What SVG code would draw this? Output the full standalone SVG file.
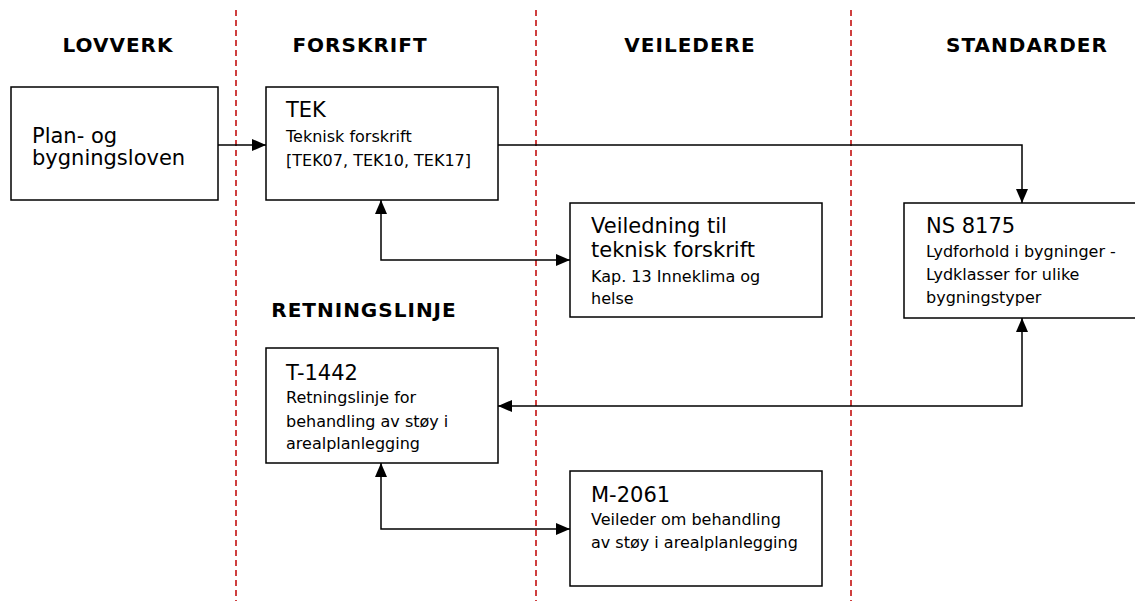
<svg xmlns="http://www.w3.org/2000/svg" width="1135" height="601" viewBox="0 0 1135 601">
<style>
.bg{fill:#fff}
.sep{stroke:#c00000;stroke-width:1.5;stroke-dasharray:6,4;fill:none}
.box{fill:#fff;stroke:#000;stroke-width:1.5}
.hdr{font-family:"DejaVu Sans",Verdana,sans-serif;font-weight:bold;font-size:20px;letter-spacing:1px;fill:#000;text-anchor:middle}
.t1{font-family:"DejaVu Sans",Verdana,sans-serif;font-size:21px;fill:#000}
.t2{font-family:"DejaVu Sans",Verdana,sans-serif;font-size:16px;fill:#000}
.con{stroke:#000;stroke-width:1.5;fill:none}
</style>
<defs>
<marker id="ah" viewBox="0 0 14 12" refX="14" refY="6" markerWidth="14" markerHeight="12" markerUnits="userSpaceOnUse" orient="auto-start-reverse">
<path d="M0,0 L14,6 L0,12 Z" fill="#000"/>
</marker>
<clipPath id="clipT"><rect x="266" y="348" width="232" height="105"/></clipPath>
</defs>
<rect class="bg" x="0" y="0" width="1135" height="601"/>
<g id="separators">
<line class="sep" x1="236" y1="10" x2="236" y2="601"/>
<line class="sep" x1="536" y1="10" x2="536" y2="601"/>
<line class="sep" x1="851" y1="10" x2="851" y2="601"/>
</g>
<g id="headers">
<text class="hdr" x="118" y="52">LOVVERK</text>
<text class="hdr" x="360" y="52">FORSKRIFT</text>
<text class="hdr" x="690" y="52">VEILEDERE</text>
<text class="hdr" x="1027" y="52">STANDARDER</text>
<text class="hdr" x="364" y="317">RETNINGSLINJE</text>
</g>
<g id="connectors">
<path class="con" d="M218,145 L266,145" marker-end="url(#ah)"/>
<path class="con" d="M498,145 L1022,145 L1022,203" marker-end="url(#ah)"/>
<path class="con" d="M381,200 L381,260 L570,260" marker-start="url(#ah)" marker-end="url(#ah)"/>
<path class="con" d="M1022,318 L1022,406 L498,406" marker-start="url(#ah)" marker-end="url(#ah)"/>
<path class="con" d="M381,463 L381,529 L570,529" marker-start="url(#ah)" marker-end="url(#ah)"/>
</g>
<g id="node-plan">
<rect class="box" x="11" y="87" width="207" height="113"/>
<text class="t1" x="32" y="143">Plan- og</text>
<text class="t1" x="32" y="165">bygningsloven</text>
</g>
<g id="node-tek">
<rect class="box" x="266" y="87" width="232" height="113"/>
<text class="t1" x="286" y="117">TEK</text>
<text class="t2" x="286" y="142">Teknisk forskrift</text>
<text class="t2" x="286" y="166">[TEK07, TEK10, TEK17]</text>
</g>
<g id="node-veiledning">
<rect class="box" x="570" y="203" width="252" height="114"/>
<text class="t1" x="591" y="233">Veiledning til</text>
<text class="t1" x="591" y="257">teknisk forskrift</text>
<text class="t2" x="591" y="282">Kap. 13 Inneklima og</text>
<text class="t2" x="591" y="304">helse</text>
</g>
<g id="node-ns8175">
<rect class="box" x="904" y="203" width="240" height="115"/>
<text class="t1" x="926" y="233">NS 8175</text>
<text class="t2" x="926" y="257">Lydforhold i bygninger -</text>
<text class="t2" x="926" y="280">Lydklasser for ulike</text>
<text class="t2" x="926" y="303">bygningstyper</text>
</g>
<g id="node-t1442">
<rect class="box" x="266" y="348" width="232" height="115"/>
<g clip-path="url(#clipT)">
<text class="t1" x="286" y="380">T-1442</text>
<text class="t2" x="286" y="403">Retningslinje for</text>
<text class="t2" x="286" y="427">behandling av støy i</text>
<text class="t2" x="286" y="449">arealplanlegging</text>
</g>
</g>
<g id="node-m2061">
<rect class="box" x="570" y="471" width="252" height="115"/>
<text class="t1" x="591" y="502">M-2061</text>
<text class="t2" x="591" y="525">Veileder om behandling</text>
<text class="t2" x="591" y="548">av støy i arealplanlegging</text>
</g>
</svg>
